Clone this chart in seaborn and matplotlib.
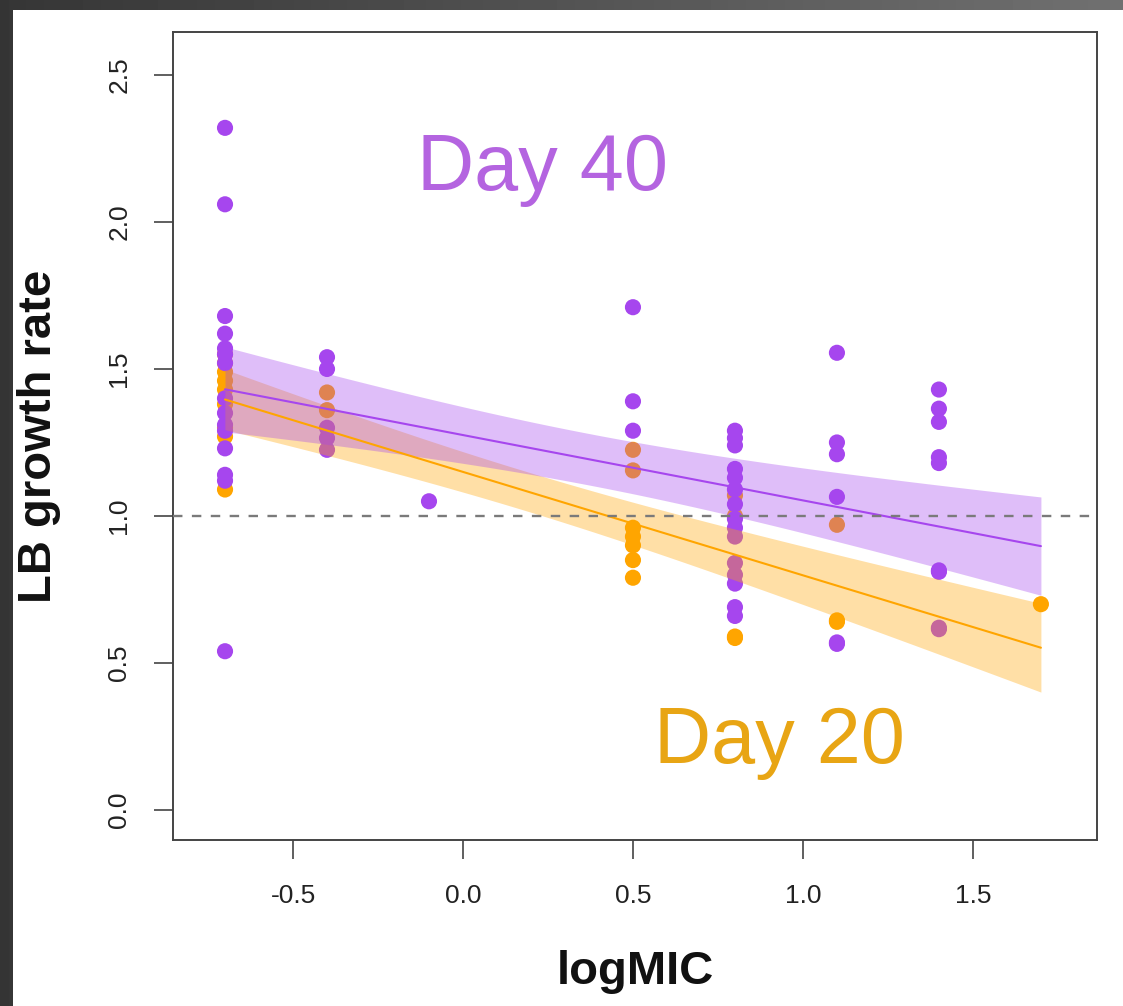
import numpy as np
import pandas as pd
import matplotlib
matplotlib.use("Agg")
import matplotlib.pyplot as plt
import seaborn as sns
from matplotlib.patches import Rectangle

# ---------------- data ----------------
logmic_levels = [-0.7, -0.4, -0.1, 0.5, 0.8, 1.1, 1.4, 1.7]

day40_rates = [
    [2.32, 2.06, 1.68, 1.62, 1.57, 1.55, 1.52, 1.40, 1.35, 1.31, 1.29, 1.23, 1.14, 1.12, 0.54],
    [1.54, 1.50, 1.30, 1.265, 1.225],
    [1.05],
    [1.71, 1.39, 1.29],
    [1.29, 1.265, 1.24, 1.16, 1.13, 1.09, 1.04, 0.99, 0.96, 0.93, 0.84, 0.80, 0.77, 0.69, 0.66],
    [1.555, 1.25, 1.21, 1.065, 0.57, 0.565],
    [1.43, 1.365, 1.32, 1.20, 1.18, 0.815, 0.81, 0.62, 0.615],
    [],
]

day20_rates = [
    [1.55, 1.52, 1.49, 1.46, 1.43, 1.38, 1.30, 1.27, 1.09],
    [1.42, 1.36],
    [],
    [1.225, 1.155, 0.96, 0.93, 0.90, 0.85, 0.79],
    [1.07, 1.00, 0.59, 0.585],
    [0.97, 0.645, 0.64],
    [],
    [0.70],
]

group_names = ["Day 20", "Day 40"]
group_colors = {"Day 20": "#FFA500", "Day 40": "#A646EE"}
label_colors = {"Day 20": "#E8A514", "Day 40": "#B464E0"}

x_ticks = [-0.5, 0.0, 0.5, 1.0, 1.5]
y_ticks = [0.0, 0.5, 1.0, 1.5, 2.0, 2.5]

# ---------------- build table ----------------
rows = []
for name, table in (("Day 20", day20_rates), ("Day 40", day40_rates)):
    for lvl, vals in zip(logmic_levels, table):
        for v in vals:
            rows.append({"logMIC": lvl, "rate": v, "day": name})
df = pd.DataFrame(rows)


def fit_band(x, y, grid):
    x = np.asarray(x, float)
    y = np.asarray(y, float)
    n = len(x)
    b1, b0 = np.polyfit(x, y, 1)
    resid = y - (b0 + b1 * x)
    s = np.sqrt((resid ** 2).sum() / (n - 2))
    xm = x.mean()
    sxx = ((x - xm) ** 2).sum()
    d = n - 2
    z = 1.959964
    t = z + (z ** 3 + z) / (4 * d) + (5 * z ** 5 + 16 * z ** 3 + 3 * z) / (96 * d ** 2)
    se = s * np.sqrt(1.0 / n + (grid - xm) ** 2 / sxx)
    yhat = b0 + b1 * grid
    return yhat, yhat - t * se, yhat + t * se


# ---------------- figure ----------------
sns.set_style("ticks")
plt.rcParams["font.family"] = ["Liberation Sans", "DejaVu Sans"]

W, H = 1123, 1006
fig = plt.figure(figsize=(W / 100, H / 100), dpi=100)

# dark slide frame
bg = fig.add_axes([0, 0, 1, 1], zorder=-10)
grad = np.tile(np.linspace(0.21, 0.44, 256), (2, 1))
bg.imshow(grad, cmap="gray", vmin=0, vmax=1, aspect="auto", extent=[0, 1, 0, 1])
bg.add_patch(Rectangle((13 / W, 0), 1, 1 - 10 / H, facecolor="white", edgecolor="none"))
bg.set_xlim(0, 1)
bg.set_ylim(0, 1)
bg.axis("off")

ax = fig.add_axes([173 / W, 1 - 840 / H, (1097 - 173) / W, (840 - 32) / H])
ax.set_facecolor("white")

sns.scatterplot(data=df, x="logMIC", y="rate", hue="day", hue_order=group_names,
                palette=group_colors, s=135, linewidth=0, legend=False, ax=ax, zorder=2)

grid = np.linspace(df["logMIC"].min(), df["logMIC"].max(), 200)
for name in group_names:
    sub = df[df["day"] == name]
    yhat, lo, hi = fit_band(sub["logMIC"], sub["rate"], grid)
    ax.fill_between(grid, lo, hi, color=group_colors[name], alpha=0.35, linewidth=0, zorder=3)
    ax.plot(grid, yhat, color=group_colors[name], lw=1.5, zorder=4)

ax.axhline(1.0, color="#7a7a7a", lw=1.7, ls=(0, (4, 4)), zorder=5)

ax.set_xlim(-0.853, 1.865)
ax.set_ylim(-0.102, 2.646)
ax.set_xticks(x_ticks)
ax.set_xticklabels([f"{v:.1f}" for v in x_ticks])
ax.set_yticks(y_ticks)
ax.set_yticklabels([f"{v:.1f}" for v in y_ticks], rotation=90, va="center")

for sp in ax.spines.values():
    sp.set_visible(True)
    sp.set_color("#444444")
    sp.set_linewidth(1.4)
ax.tick_params(axis="both", length=14, width=1.2, color="#444444",
               labelsize=19, labelcolor="#222222")
ax.tick_params(axis="x", pad=18)
ax.tick_params(axis="y", pad=16)

ax.set_xlabel("logMIC", fontsize=34, fontweight="bold", labelpad=30, color="#111111")
ax.set_ylabel("LB growth rate", fontsize=34, fontweight="bold", labelpad=33, color="#111111")

ax.text(0.235, 2.177, "Day 40", fontsize=57, color=label_colors["Day 40"],
        ha="center", va="center", zorder=6)
ax.text(0.932, 0.228, "Day 20", fontsize=57, color=label_colors["Day 20"],
        ha="center", va="center", zorder=6)

fig.savefig("out.png", dpi=100)
